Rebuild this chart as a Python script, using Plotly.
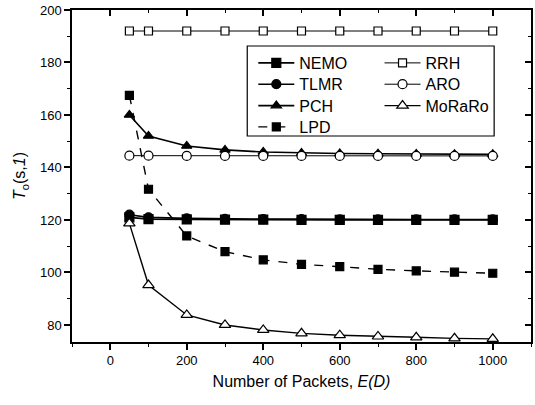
import plotly.graph_objects as go

x_vals = [50, 100, 200, 300, 400, 500, 600, 700, 800, 900, 1000]
nemo = [121.0, 120.3, 120.2, 120.1, 120.1, 120.0, 120.0, 120.0, 120.0, 120.0, 120.0]
rrh = [192.0, 192.0, 192.0, 192.0, 192.0, 192.0, 192.0, 192.0, 192.0, 192.0, 192.0]
tlmr = [122.0, 121.0, 120.6, 120.4, 120.3, 120.3, 120.2, 120.2, 120.2, 120.2, 120.2]
aro = [144.5, 144.5, 144.4, 144.4, 144.4, 144.4, 144.4, 144.4, 144.4, 144.4, 144.4]
pch = [160.0, 152.0, 148.2, 146.7, 145.9, 145.5, 145.3, 145.2, 145.1, 145.0, 145.0]
moraro = [118.7, 95.2, 83.8, 80.0, 78.1, 76.8, 76.1, 75.6, 75.3, 74.9, 74.7]
lpd = [167.5, 131.7, 113.9, 107.9, 104.8, 103.1, 102.2, 101.2, 100.6, 100.1, 99.7]

FONT = "Liberation Sans, Arial, sans-serif"

fig = go.Figure()

def add(name, y, symbol, filled, legend, width=1.6, dash="solid", size=9):
    fig.add_trace(go.Scatter(
        x=x_vals, y=y, name=name, mode="lines+markers", legend=legend,
        line=dict(color="black", width=width, dash=dash),
        marker=dict(symbol=symbol, size=size,
                    color="black" if filled else "white",
                    line=dict(color="black", width=1.2)),
    ))

add("NEMO", nemo, "square", True, "legend")
add("TLMR", tlmr, "circle", True, "legend2")
add("PCH", pch, "triangle-up", True, "legend3")
add("LPD", lpd, "square", True, "legend4", width=1.4, dash="dash", size=8)
add("RRH", rrh, "square", False, "legend5", width=1.0, size=8)
add("ARO", aro, "circle", False, "legend6", width=1.0)
add("MoRaRo", moraro, "triangle-up", False, "legend7", width=1.4, size=10)

xr = [-100, 1100]
yr = [73.5, 200]

leg_common = dict(
    orientation="v", yanchor="top", xanchor="left",
    bgcolor="rgba(0,0,0,0)", borderwidth=0,
    font=dict(family=FONT, size=16, color="black"),
    tracegroupgap=0, itemwidth=36,
)

# legend row positions (paper fraction of the plot area)
row_y = [0.8916, 0.8274, 0.7630, 0.6988]
col_x = [0.395, 0.670]

fig.update_layout(
    width=535, height=405,
    margin=dict(l=72, r=2, t=10, b=63),
    paper_bgcolor="white", plot_bgcolor="white",
    font=dict(family=FONT, color="black", size=13),
    legend=dict(x=col_x[0], y=row_y[0], **leg_common),
    legend2=dict(x=col_x[0], y=row_y[1], **leg_common),
    legend3=dict(x=col_x[0], y=row_y[2], **leg_common),
    legend4=dict(x=col_x[0], y=row_y[3], **leg_common),
    legend5=dict(x=col_x[1], y=row_y[0], **leg_common),
    legend6=dict(x=col_x[1], y=row_y[1], **leg_common),
    legend7=dict(x=col_x[1], y=row_y[2], **leg_common),
    shapes=[dict(type="rect", xref="paper", yref="paper",
                 x0=0.3818, x1=0.9197, y0=0.6205, y1=0.8916,
                 line=dict(color="black", width=1.2), fillcolor="rgba(0,0,0,0)")],
    xaxis=dict(
        range=xr, showgrid=False, zeroline=False,
        showline=True, linecolor="black", linewidth=1.5, mirror=True,
        ticks="outside", ticklen=6, tickwidth=1.5, tickcolor="black",
        tick0=0, dtick=200,
        minor=dict(ticks="outside", ticklen=3, tickwidth=1, dtick=100, tick0=0, tickcolor="black"),
        tickfont=dict(size=13),
        title=dict(text="Number of Packets, <i>E(D)</i>", font=dict(size=16), standoff=8),
    ),
    yaxis=dict(
        range=yr, showgrid=False, zeroline=False,
        showline=True, linecolor="black", linewidth=1.5, mirror=True,
        ticks="outside", ticklen=6, tickwidth=1.5, tickcolor="black",
        tick0=80, dtick=20,
        minor=dict(ticks="outside", ticklen=3, tickwidth=1, dtick=10, tick0=80, tickcolor="black"),
        tickfont=dict(size=13),
        title=dict(text="<i>T</i><sub>o</sub>(s,<i>1</i>)", font=dict(size=16), standoff=10),
    ),
    xaxis2=dict(
        overlaying="x", side="top", range=xr, showgrid=False, zeroline=False,
        showline=False, showticklabels=False,
        ticks="inside", ticklen=6, tickwidth=1.5, tickcolor="black",
        tick0=0, dtick=200,
        minor=dict(ticks="inside", ticklen=3, tickwidth=1, dtick=100, tick0=0, tickcolor="black"),
    ),
    yaxis2=dict(
        overlaying="y", side="right", range=yr, showgrid=False, zeroline=False,
        showline=False, showticklabels=False,
        ticks="inside", ticklen=6, tickwidth=1.5, tickcolor="black",
        tick0=80, dtick=20,
        minor=dict(ticks="inside", ticklen=3, tickwidth=1, dtick=10, tick0=80, tickcolor="black"),
    ),
)

# invisible trace to activate the mirror-tick axes
fig.add_trace(go.Scatter(x=[None], y=[None], xaxis="x2", yaxis="y2",
                         showlegend=False, hoverinfo="skip"))

fig.write_html("out.html")
